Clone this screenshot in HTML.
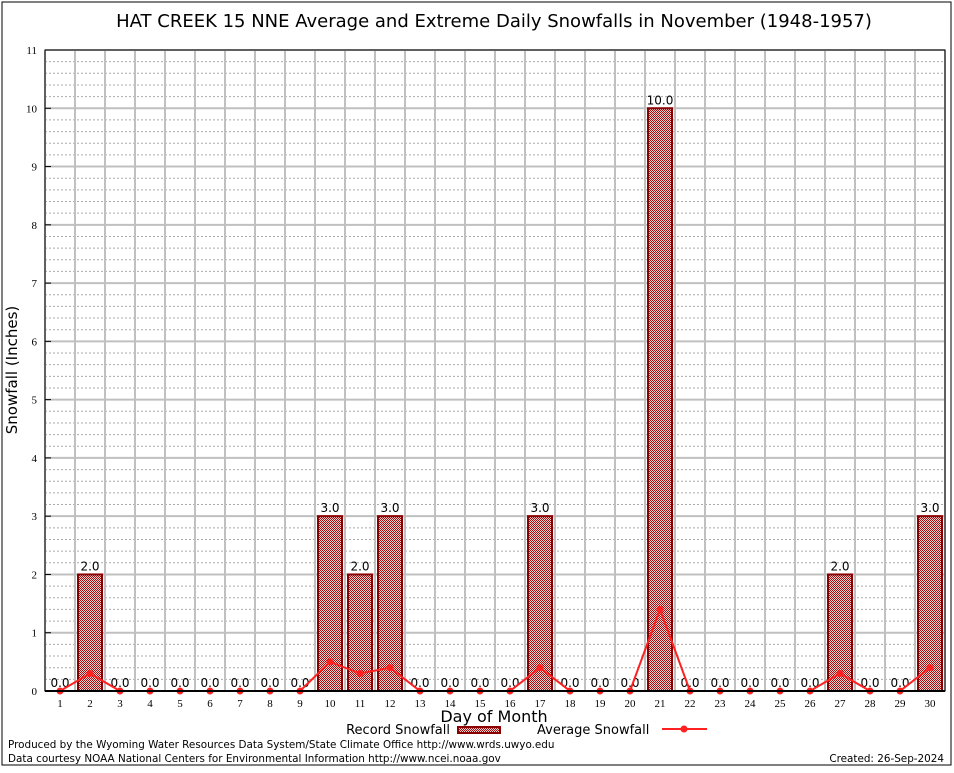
<!DOCTYPE html>
<html><head><meta charset="utf-8"><style>
body{margin:0;background:#fff;width:954px;height:768px;overflow:hidden}
svg{font-family:"DejaVu Sans","Liberation Sans",sans-serif}
</style></head><body>
<svg id="chart" width="954" height="768" viewBox="0 0 954 768" xmlns="http://www.w3.org/2000/svg">
<defs>
<pattern id="chk" width="2" height="2" patternUnits="userSpaceOnUse">
<rect width="2" height="2" fill="#f4d0d0"/><rect width="1" height="1" fill="#a01010"/><rect x="1" y="1" width="1" height="1" fill="#a01010"/>
</pattern>
</defs>
<rect x="2" y="2" width="949" height="763" fill="none" stroke="#000" stroke-width="1"/>
<text x="494" y="27" font-size="18" text-anchor="middle">HAT CREEK 15 NNE Average and Extreme Daily Snowfalls in November (1948-1957)</text>
<g id="grid"></g>
<g id="bars"></g>
<g id="line"></g>
<g id="axes"></g>
<text x="17" y="370" font-size="15" text-anchor="middle" transform="rotate(-90 17 370)">Snowfall (Inches)</text>
<text x="494" y="722" font-size="16" text-anchor="middle">Day of Month</text>
<g>
<text x="450" y="734" font-size="13" text-anchor="end">Record Snowfall</text>
<rect x="458" y="727" width="42" height="6" fill="url(#chk)" stroke="#8b0000" stroke-width="2"/>
<text x="537" y="734" font-size="13">Average Snowfall</text>
<line x1="662" y1="729" x2="707" y2="729" stroke="#ff2020" stroke-width="2"/>
<circle cx="684" cy="729" r="3.5" fill="#ff2020"/>
</g>
<text x="8" y="748" font-size="10.4">Produced by the Wyoming Water Resources Data System/State Climate Office http://www.wrds.uwyo.edu</text>
<text x="8" y="762" font-size="10.4">Data courtesy NOAA National Centers for Environmental Information http://www.ncei.noaa.gov</text>
<text x="944" y="762" font-size="10.4" text-anchor="end">Created: 26-Sep-2024</text>
</svg>
<script>
const days=[1,2,3,4,5,6,7,8,9,10,11,12,13,14,15,16,17,18,19,20,21,22,23,24,25,26,27,28,29,30];
const recordSnow=[0,2,0,0,0,0,0,0,0,3,2,3,0,0,0,0,3,0,0,0,10,0,0,0,0,0,2,0,0,3];
const avgSnow=[0,0.3,0,0,0,0,0,0,0,0.5,0.3,0.4,0,0,0,0,0.4,0,0,0,1.4,0,0,0,0,0,0.3,0,0,0.4];
const yTicks=[0,1,2,3,4,5,6,7,8,9,10,11];
const NS="http://www.w3.org/2000/svg";
const L=45,R=945,T=50,B=691,yMax=11;
const xs=d=>60+(d-1)*(R-L)/30;
const ys=v=>B-v*(B-T)/yMax;
function mk(p,tag,at){const e=document.createElementNS(NS,tag);for(const k in at)e.setAttribute(k,at[k]);document.getElementById(p).appendChild(e);return e;}
for(let v=0;v<=yMax;v+=0.2){const y=ys(v);if(Math.abs(v-Math.round(v))<1e-6)continue;
const g=mk('grid','line',{x1:L,x2:R,y1:y,y2:y,stroke:'#aaa','stroke-width':1,'stroke-dasharray':'2,2'});

}
for(let i=0;i<=30;i++){const x=L+i*(R-L)/30;const g=mk('grid','line',{x1:x,x2:x,y1:T,y2:B,stroke:'#c0c0c0','stroke-width':2});

}
yTicks.forEach(v=>{const y=ys(v);const g=mk('grid','line',{x1:L,x2:R,y1:y,y2:y,stroke:'#c0c0c0','stroke-width':2});


const t=mk('axes','text',{x:L-8,y:y+4,'font-size':11,'text-anchor':'end','font-family':'Liberation Serif,serif'});t.textContent=v;


const tk=mk('axes','line',{x1:L,x2:L+6,y1:y,y2:y,stroke:'#000'});

});
days.forEach((d,i)=>{const v=recordSnow[i];const x=xs(d);
if(v>0){const r=mk('bars','rect',{x:x-12,y:ys(v),width:24,height:B-ys(v),fill:'url(#chk)',stroke:'#8b0000','stroke-width':2});

}
const t=mk('bars','text',{x:x,y:ys(v)-4,'font-size':12,'text-anchor':'middle'});t.textContent=v.toFixed(1);


const dl=mk('axes','text',{x:x,y:B+16,'font-size':11,'text-anchor':'middle','font-family':'Liberation Serif,serif'});dl.textContent=d;

});
const pl=mk('line','polyline',{points:days.map((d,i)=>xs(d)+','+ys(avgSnow[i])).join(' '),fill:'none',stroke:'#ff2020','stroke-width':2});


days.forEach((d,i)=>{const c=mk('line','circle',{cx:xs(d),cy:ys(avgSnow[i]),r:3.5,fill:'#ff2020'});

});
const fr=mk('axes','rect',{x:L,y:T,width:R-L,height:B-T,fill:'none',stroke:'#000','stroke-width':1});


const xa=mk('axes','line',{x1:L,x2:R,y1:B,y2:B,stroke:'#000','stroke-width':2});


</script>
</body></html>
